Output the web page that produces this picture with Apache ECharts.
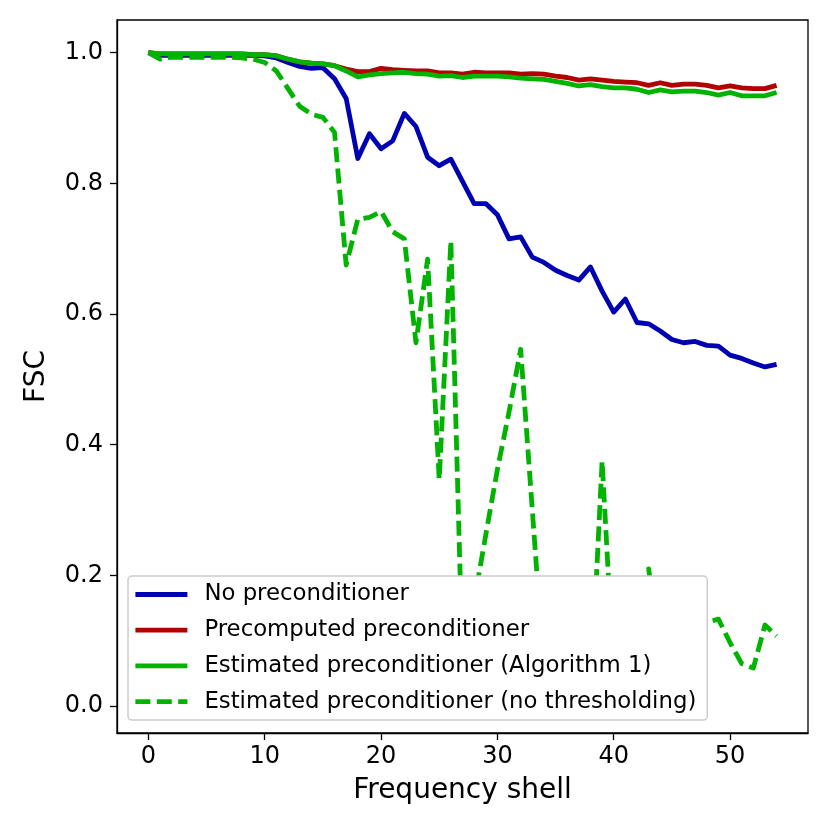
<!DOCTYPE html>
<html>
<head>
<meta charset="utf-8">
<script src="https://cdn.jsdelivr.net/npm/echarts@6/dist/echarts.min.js"></script>
<style>
html,body{margin:0;padding:0;background:#fff;}
#chart{width:830px;height:830px;}
</style>
</head>
<body>
<div id="chart"></div>
<script>
const shells = [0,1,2,3,4,5,6,7,8,9,10,11,12,13,14,15,16,17,18,19,20,21,22,23,24,25,26,27,28,29,30,31,32,33,34,35,36,37,38,39,40,41,42,43,44,45,46,47,48,49,50,51,52,53,54];

const noPrecond = [1.000,0.996,0.996,0.996,0.996,0.996,0.996,0.996,0.996,0.996,0.995,0.992,0.985,0.979,0.976,0.977,0.960,0.930,0.838,0.876,0.853,0.865,0.907,0.887,0.840,0.827,0.837,0.803,0.769,0.769,0.752,0.715,0.718,0.687,0.679,0.667,0.659,0.652,0.672,0.635,0.603,0.623,0.587,0.585,0.574,0.561,0.556,0.558,0.552,0.551,0.537,0.532,0.525,0.519,0.523];

const precomputed = [1.000,0.998,0.998,0.998,0.998,0.998,0.998,0.998,0.998,0.997,0.997,0.995,0.990,0.986,0.984,0.983,0.980,0.975,0.971,0.971,0.976,0.974,0.973,0.972,0.972,0.969,0.969,0.967,0.970,0.969,0.969,0.969,0.967,0.968,0.967,0.964,0.962,0.958,0.960,0.958,0.956,0.955,0.954,0.950,0.954,0.950,0.952,0.952,0.950,0.946,0.949,0.946,0.945,0.945,0.950];

const estimatedAlg1 = [1.000,0.998,0.998,0.998,0.998,0.998,0.998,0.998,0.998,0.997,0.997,0.995,0.990,0.986,0.984,0.983,0.980,0.972,0.963,0.966,0.968,0.969,0.970,0.968,0.967,0.964,0.965,0.962,0.964,0.964,0.964,0.963,0.961,0.960,0.959,0.956,0.953,0.949,0.951,0.948,0.946,0.946,0.944,0.939,0.943,0.940,0.941,0.941,0.939,0.935,0.939,0.934,0.934,0.934,0.939];

const estimatedNoThresh = [1.000,0.990,0.993,0.993,0.993,0.993,0.993,0.993,0.992,0.990,0.985,0.972,0.945,0.918,0.906,0.901,0.878,0.675,0.745,0.748,0.757,0.726,0.715,0.556,0.684,0.347,0.712,0.070,0.160,0.262,0.362,0.450,0.546,0.300,0.055,0.120,0.040,0.150,0.010,0.375,0.050,0.100,0.030,0.210,0.080,0.140,0.100,0.120,0.128,0.133,0.097,0.065,0.058,0.124,0.107];

const seriesNames = ['No preconditioner','Precomputed preconditioner','Estimated preconditioner (Algorithm 1)','Estimated preconditioner (no thresholding)'];
const xTicks = [0,10,20,30,40,50];
const yTicks = [0,0.2,0.4,0.6,0.8,1.0];

const FONT = 'DejaVu Sans';
function pairs(vals){ return shells.map((s,i)=>[s, vals[i]]); }

const chart = echarts.init(document.getElementById('chart'), null, {renderer:'canvas'});

function mk(name, vals, color, dashed){
  return {
    name: name, type:'line', data: pairs(vals), symbol:'none', showSymbol:false,
    smooth:false, animation:false, clip:true,
    lineStyle:{color:color, width:4.8, type: dashed ? [15,6.4] : 'solid', cap:'butt', join:'round'},
    itemStyle:{color:color},
    emphasis:{disabled:true}
  };
}

chart.setOption({
  backgroundColor:'#fff',
  animation:false,
  textStyle:{fontFamily:FONT},
  grid:{left:117, right:22, top:20, bottom:97, show:true, borderColor:'#000', borderWidth:1.3, containLabel:false},
  xAxis:{
    type:'value', min:-2.7, max:56.7,
    axisLine:{show:true, onZero:false, lineStyle:{color:'#000', width:1.3}},
    axisTick:{show:true, inside:false, length:7, lineStyle:{color:'#000', width:1.3}, customValues:xTicks},
    axisLabel:{show:true, customValues:xTicks, fontSize:24, color:'#000', fontFamily:FONT, margin:12},
    splitLine:{show:false},
    name:'Frequency shell', nameLocation:'middle', nameGap:44,
    nameTextStyle:{fontSize:28, color:'#000', fontFamily:FONT}
  },
  yAxis:{
    type:'value', min:-0.0413, max:1.050,
    axisLine:{show:true, onZero:false, lineStyle:{color:'#000', width:1.3}},
    axisTick:{show:true, inside:false, length:7, lineStyle:{color:'#000', width:1.3}, customValues:yTicks},
    axisLabel:{show:true, customValues:yTicks, fontSize:24, color:'#000', fontFamily:FONT, margin:14,
      formatter:function(v){ return v.toFixed(1); }},
    splitLine:{show:false},
    name:'FSC', nameLocation:'middle', nameGap:66, nameRotate:90,
    nameTextStyle:{fontSize:28, color:'#000', fontFamily:FONT}
  },
  legend:{
    show:true, orient:'vertical', left:128, top:576,
    itemWidth:52, itemHeight:22, itemGap:12.7,
    padding:[7,11,7,5],
    backgroundColor:'#fff', borderColor:'#cccccc', borderWidth:1.5, borderRadius:4,
    itemStyle:{opacity:0, borderWidth:0},
    lineStyle:{width:4.8},
    textStyle:{fontSize:22.8, lineHeight:22, color:'#000', fontFamily:FONT, padding:[0,0,0,12]},
    selectedMode:false,
    data:seriesNames
  },
  series:[
    mk(seriesNames[0], noPrecond, '#0000b3', false),
    mk(seriesNames[1], precomputed, '#b30000', false),
    mk(seriesNames[2], estimatedAlg1, '#00b300', false),
    mk(seriesNames[3], estimatedNoThresh, '#00b300', true)
  ]
});
</script>
</body>
</html>
